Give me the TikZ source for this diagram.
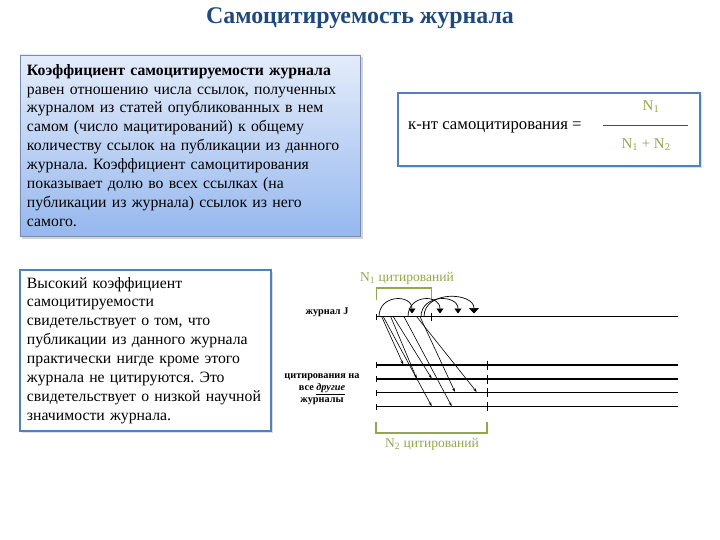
\documentclass[tikz,border=0pt]{standalone}
\usepackage{fontspec}
\setmainfont{Liberation Serif}
\usetikzlibrary{arrows.meta,shadows}
\definecolor{titleblue}{RGB}{31,73,125}
\definecolor{accblue}{RGB}{79,129,189}
\definecolor{grayblue}{RGB}{120,140,180}
\definecolor{olive}{RGB}{146,168,76}
\definecolor{gradtop}{RGB}{228,236,250}
\definecolor{gradbot}{RGB}{150,184,238}
\tikzset{
  textbox/.style={draw=accblue, line width=1.6bp, fill=white, align=left, inner xsep=7bp, inner ysep=0bp,
     font=\fontsize{15.8}{19}\selectfont, drop shadow={opacity=0.25, shadow xshift=2bp, shadow yshift=-2bp}},
  gradbox/.style={draw=grayblue, line width=0.8bp, top color=gradtop, bottom color=gradbot, align=left, inner xsep=7bp, inner ysep=0bp,
     font=\fontsize{15.8}{19}\selectfont, drop shadow={opacity=0.35, shadow xshift=2.5bp, shadow yshift=-2.5bp}},
  jline/.style={line width=1.3bp, black},
  brk/.style={draw=olive, line width=1.2bp},
  olab/.style={text=olive, font=\fontsize{13.6}{15}\selectfont, inner sep=0},
  dlab/.style={font=\bfseries\fontsize{10.3}{12}\selectfont, align=center, inner sep=0},
  cite/.style={line width=0.6bp, -{Stealth[length=4bp,width=2.6bp]}},
  selfc/.style={line width=0.7bp, -{Triangle[length=5bp,width=7bp]}},
}
\begin{document}
\frenchspacing
\begin{tikzpicture}[x=1bp,y=-1bp]
\useasboundingbox (0,0) rectangle (720,540);
% title
\node[text=titleblue, font=\bfseries\fontsize{24}{28}\selectfont] (title) at (360,18) {Самоцитируемость журнала};

% box 1
\node[gradbox, minimum width=340bp, minimum height=181bp, text width=326bp] (box1) at (190,145.5)
{\textbf{Коэффициент самоцитируемости журнала}\\
равен отношению числа ссылок, полученных\\
журналом из статей опубликованных в нем\\
самом (число мацитирований) к общему\\
количеству ссылок на публикации из данного\\
журнала. Коэффициент самоцитирования\\
показывает долю во всех ссылках (на\\
публикации из журнала) ссылок из него\\
самого.};

% box 3
\node[textbox, minimum width=251bp, minimum height=161bp, text width=237bp] (box3) at (145.5,350.5)
{Высокий коэффициент\\
самоцитируемости\\
свидетельствует о том, что\\
публикации из данного журнала\\
практически нигде кроме этого\\
журнала не цитируются. Это\\
свидетельствует о низкой научной\\
значимости журнала.};

% formula box
\node[textbox, minimum width=302bp, minimum height=73bp] (fbox) at (549,129.5) {};
\node[anchor=west, font=\fontsize{16.8}{19}\selectfont, inner sep=0] (flab) at (408,127) {к-нт самоцитирования =};
\node[olab, font=\fontsize{15}{17}\selectfont] (fnum) at (651,107) {N\textsubscript{1}};
\node[olab, font=\fontsize{15}{17}\selectfont] (fden) at (646,145) {N\textsubscript{1} + N\textsubscript{2}};
\coordinate (fl1) at (603,125);
\coordinate (fl2) at (688,125);
\draw[line width=0.8bp, black!70] (fl1) -- (fl2);

% diagram labels
\node[dlab] (lj) at (327,312) {журнал J};
\node[dlab] (lo) at (322,389) {цитирования на\\ все \underline{\textit{другие}}\\ журналы};

% journal line
\coordinate (j0) at (376,316.7);
\coordinate (j1) at (678,316.7);
\draw[jline] (j0) -- (j1);
\draw[line width=0.6bp] (376,313.5) -- (376,319.5);
\draw[line width=0.8bp] (431.7,312.5) -- (431.7,320.5);

% other journals lines
\foreach \yy [count=\i] in {365,379,392.5,406.7}{
  \coordinate (o\i a) at (376,\yy);
  \coordinate (o\i b) at (678,\yy);
  \draw[jline] (o\i a) -- (o\i b);
  \draw[line width=0.6bp] (376,\yy-3) -- (376,\yy+3);
  \draw[line width=1bp] (487,\yy-4.5) -- (487,\yy+4.5);
}

% brackets
\coordinate (b1a) at (376.7,300);
\coordinate (b1b) at (431.7,300);
\draw[brk] (b1a) -- (376.7,288) -- (431.7,288) -- (b1b);
\node[olab] (n1) at (407,278) {N\textsubscript{1} цитирований};
\coordinate (b2a) at (376,422);
\coordinate (b2b) at (487,422);
\draw[brk] (b2a) -- (376,433) -- (487,433) -- (b2b);
\node[olab] (n2) at (432,444) {N\textsubscript{2} цитирований};

% self citations (arcs)
\coordinate (a1s) at (379,316.7); \coordinate (a1e) at (412,313.5);
\coordinate (a2s) at (408,316.7); \coordinate (a2e) at (440,313.5);
\coordinate (a3s) at (421,316.7); \coordinate (a3e) at (458,313.5);
\coordinate (a4s) at (424,316.7); \coordinate (a4e) at (474,313.5);
\draw[selfc] (a1s) .. controls (379,294) and (412,294) .. (a1e);
\draw[selfc] (a2s) .. controls (408,294) and (440,294) .. (a2e);
\draw[selfc] (a3s) .. controls (421,294) and (458,294) .. (a3e);
\draw[line width=0.7bp, -{Triangle[length=5.5bp,width=10bp]}] (a4s) .. controls (424,290) and (474,292) .. (a4e);

% citations to other journals
\coordinate (c1s) at (381.7,316.7); \coordinate (c1e) at (403.3,364.5);
\coordinate (c2s) at (383.3,316.7); \coordinate (c2e) at (431.7,406.2);
\coordinate (c3s) at (390.7,316.7); \coordinate (c3e) at (416.7,378.5);
\coordinate (c4s) at (393.3,316.7); \coordinate (c4e) at (431.7,378.5);
\coordinate (c5s) at (404,316.7);   \coordinate (c5e) at (451.7,406.2);
\coordinate (c6s) at (420,316.7);   \coordinate (c6e) at (455,392);
\coordinate (c7s) at (416.7,316.7); \coordinate (c7e) at (476.7,392);
\foreach \k in {1,...,7}{\draw[cite] (c\k s) -- (c\k e);}
\end{tikzpicture}
\end{document}
